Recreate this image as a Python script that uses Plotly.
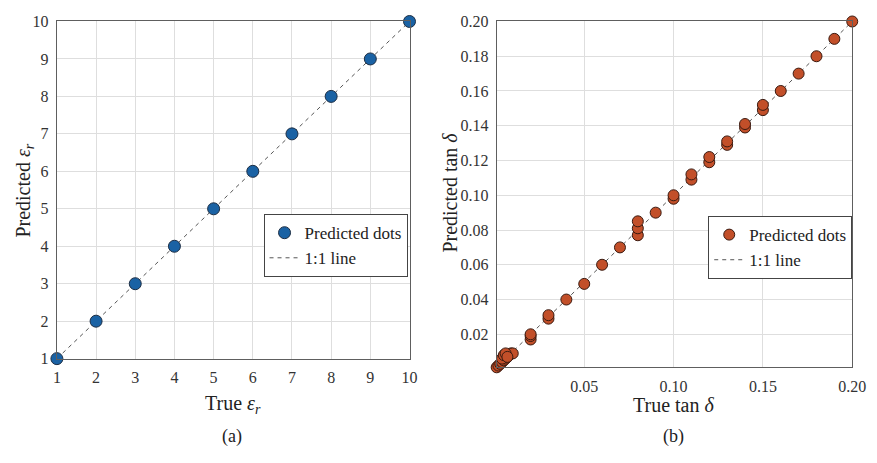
import plotly.graph_objects as go

# ---- data ----
eps_true = [1, 2, 3, 4, 5, 6, 7, 8, 9, 10]
eps_pred = [1, 2, 3, 4, 5, 6, 7, 8, 9, 10]
eps_ticks = [1, 2, 3, 4, 5, 6, 7, 8, 9, 10]

tan_true = [0.001, 0.002, 0.003, 0.004, 0.005, 0.006, 0.007, 0.008, 0.009, 0.010,
            0.004, 0.005, 0.006, 0.007,
            0.020, 0.020, 0.020, 0.030, 0.030, 0.040, 0.050, 0.060, 0.070,
            0.080, 0.080, 0.080, 0.090, 0.100, 0.100, 0.110, 0.110,
            0.120, 0.120, 0.130, 0.130, 0.140, 0.140, 0.150, 0.150,
            0.160, 0.170, 0.180, 0.190, 0.200]
tan_pred = [0.001, 0.002, 0.003, 0.004, 0.005, 0.006, 0.007, 0.008, 0.009, 0.009,
            0.006, 0.008, 0.009, 0.007,
            0.017, 0.019, 0.020, 0.029, 0.031, 0.040, 0.049, 0.060, 0.070,
            0.077, 0.081, 0.085, 0.090, 0.098, 0.100, 0.109, 0.112,
            0.119, 0.122, 0.129, 0.131, 0.139, 0.141, 0.149, 0.152,
            0.160, 0.170, 0.180, 0.190, 0.200]
tan_xticks = [0.05, 0.10, 0.15, 0.20]
tan_yticks = [0.02, 0.04, 0.06, 0.08, 0.10, 0.12, 0.14, 0.16, 0.18, 0.20]

FONT = "Liberation Serif, Times New Roman, serif"
BLUE = "#1a62a4"
ORANGE = "#c24f29"
GRID = "#dedede"
FRAME = "#5e5e5e"
DASH = "4px,4px"

fig = go.Figure()

# left panel
fig.add_trace(go.Scatter(x=[1, 10], y=[1, 10], mode="lines",
                         line=dict(color="#555555", width=1, dash=DASH),
                         name="1:1 line", legend="legend", xaxis="x", yaxis="y"))
fig.add_trace(go.Scatter(x=eps_true, y=eps_pred, mode="markers", cliponaxis=False,
                         marker=dict(size=12, color=BLUE, line=dict(color="#1d2e44", width=1)),
                         name="Predicted dots", legend="legend", xaxis="x", yaxis="y"))

# right panel
fig.add_trace(go.Scatter(x=[0.001, 0.2], y=[0.001, 0.2], mode="lines",
                         line=dict(color="#555555", width=1, dash=DASH),
                         name="1:1 line", legend="legend2", xaxis="x2", yaxis="y2"))
fig.add_trace(go.Scatter(x=tan_true, y=tan_pred, mode="markers", cliponaxis=False,
                         marker=dict(size=11, color=ORANGE, line=dict(color="#3a1a10", width=1)),
                         name="Predicted dots", legend="legend2", xaxis="x2", yaxis="y2"))

axis_common = dict(showgrid=True, gridcolor=GRID, gridwidth=1, showline=True,
                   linecolor=FRAME, linewidth=1.2, mirror=True,
                   ticks="outside", ticklen=4, tickcolor="rgba(0,0,0,0)",
                   zeroline=False, tickfont=dict(family=FONT, size=16, color="#333333"))

leg_common = dict(xanchor="right", yanchor="top",
                  bgcolor="white", bordercolor="#444444", borderwidth=1,
                  font=dict(family=FONT, size=17, color="#222222"),
                  traceorder="reversed", tracegroupgap=0, itemwidth=30)

fig.update_layout(
    width=877, height=463, margin=dict(l=0, r=0, t=0, b=0),
    paper_bgcolor="white", plot_bgcolor="white",
    font=dict(family=FONT, color="#222222"),
    xaxis=dict(domain=[54/877, 414/877], range=[1, 10], tickvals=eps_ticks,
               anchor="y", **axis_common),
    yaxis=dict(domain=[1-364/463, 1-14/463], range=[1, 10], tickvals=eps_ticks,
               anchor="x", **axis_common),
    xaxis2=dict(domain=[503/877, 866/877], range=[0.001, 0.2], tickvals=tan_xticks,
                tickformat=".2f", anchor="y2", **axis_common),
    yaxis2=dict(domain=[1-373/463, 1-14/463], range=[0.001, 0.2], tickvals=tan_yticks,
                tickformat=".2f", anchor="x2", **axis_common),
    legend=dict(x=412/877, y=1-214/463, **leg_common),
    legend2=dict(x=866/877, y=1-216/463, **leg_common),
    showlegend=True,
)

ann = dict(xref="paper", yref="paper", showarrow=False, xanchor="center", yanchor="middle",
           font=dict(family=FONT, size=20, color="#222222"))
fig.add_annotation(text="True <i>ε<sub>r</sub></i>", x=234/877, y=1-412/463, **ann)
fig.add_annotation(text="Predicted <i>ε<sub>r</sub></i>", x=20/877, y=1-190/463, textangle=-90, **ann)
fig.add_annotation(text="True tan <i>δ</i>", x=684/877, y=1-412/463, **ann)
fig.add_annotation(text="Predicted tan <i>δ</i>", x=455/877, y=1-192/463, textangle=-90, **ann)
cap = dict(ann)
cap["font"] = dict(family=FONT, size=18, color="#222222")
fig.add_annotation(text="(a)", x=233/877, y=1-445/463, **cap)
fig.add_annotation(text="(b)", x=684/877, y=1-445/463, **cap)

fig.write_html("out.html")
